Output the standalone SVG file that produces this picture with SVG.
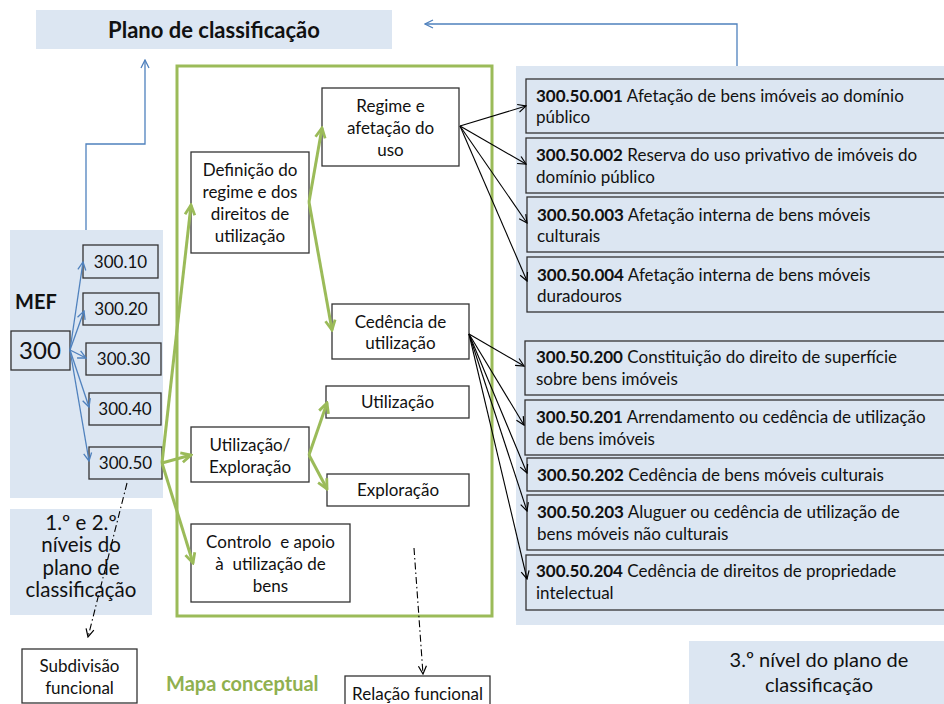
<svg xmlns="http://www.w3.org/2000/svg" width="944" height="704" viewBox="0 0 944 704">
<style>
.panel{fill:#dce6f2}
.box{fill:#fff;stroke:#333;stroke-width:1.3}
.bbox{fill:#dce6f2;stroke:#333;stroke-width:1.3}
text{font-family:Lato,"Liberation Sans",sans-serif;fill:#111}
.n{font-size:17px;text-anchor:middle}
.r{font-size:17px}
.c{text-anchor:middle}
.b{font-weight:bold}
.blue{stroke:#4f81bd;stroke-width:1.3;fill:none}
.green{stroke:#9bbb59;stroke-width:3;fill:none}
.blk{stroke:#000;stroke-width:1.1;fill:none}
.dd{stroke:#000;stroke-width:1.1;stroke-dasharray:7 3 1.5 3;fill:none}
</style>
<defs>
<marker id="ab" viewBox="0 0 10 10" refX="9" refY="5" markerWidth="10" markerHeight="10" markerUnits="userSpaceOnUse" orient="auto"><path d="M1,1 L9,5 L1,9" fill="none" stroke="#4f81bd" stroke-width="1.3"/></marker>
<marker id="ak" viewBox="0 0 10 10" refX="9" refY="5" markerWidth="10" markerHeight="10" markerUnits="userSpaceOnUse" orient="auto"><path d="M1,1 L9,5 L1,9" fill="none" stroke="#000" stroke-width="1.2"/></marker>
<marker id="ag" viewBox="0 0 12 12" refX="10.5" refY="6" markerWidth="13" markerHeight="13" markerUnits="userSpaceOnUse" orient="auto"><path d="M1.5,1.5 L10.5,6 L1.5,10.5" fill="none" stroke="#9bbb59" stroke-width="2.6"/></marker>
</defs>

<g id="panels">
<rect class="panel" x="516" y="66" width="430" height="559"/>
<rect class="panel" x="10" y="230" width="153" height="268"/>
<rect class="panel" x="10" y="509" width="142" height="106"/>
<rect class="panel" x="689" y="641" width="260" height="70"/>
<rect x="177" y="66" width="315" height="550" fill="none" stroke="#9bbb59" stroke-width="3"/>
</g>

<g id="plano">
<rect class="panel" x="36" y="10" width="356" height="39"/>
<text class="c b" x="214" y="37.5" font-size="22">Plano de classificação</text>
</g>

<g id="mef-label"><text class="b" x="15" y="309" font-size="20">MEF</text></g>
<g id="n300"><rect class="bbox" x="11" y="331" width="59" height="39"/><text class="c" x="40" y="359" font-size="24">300</text></g>
<g id="n30010"><rect class="bbox" x="83" y="245" width="75" height="33"/><text class="n" x="120.5" y="268">300.10</text></g>
<g id="n30020"><rect class="bbox" x="83" y="293" width="76" height="32"/><text class="n" x="121" y="315">300.20</text></g>
<g id="n30030"><rect class="bbox" x="86" y="343" width="75" height="32"/><text class="n" x="123.5" y="365">300.30</text></g>
<g id="n30040"><rect class="bbox" x="89" y="393" width="72" height="32"/><text class="n" x="125" y="415">300.40</text></g>
<g id="n30050"><rect class="bbox" x="89" y="447" width="73" height="32"/><text class="n" x="125.5" y="469">300.50</text></g>

<g id="niveis12">
<text class="c" font-size="20.5"><tspan x="81" y="530">1.º e 2.º</tspan><tspan x="81" y="552">níveis do</tspan><tspan x="81" y="575">plano de</tspan><tspan x="81" y="597">classificação</tspan></text>
</g>
<g id="nivel3">
<text class="c" font-size="20"><tspan x="819" y="667">3.º nível do plano de</tspan><tspan x="819" y="692">classificação</tspan></text>
</g>

<g id="regime"><rect class="box" x="322" y="88" width="137" height="78"/><text class="n"><tspan x="390.5" y="112">Regime e</tspan><tspan x="390.5" y="134">afetação do</tspan><tspan x="390.5" y="156">uso</tspan></text></g>
<g id="definicao"><rect class="box" x="191" y="152" width="118" height="101"/><text class="n"><tspan x="250" y="176">Definição do</tspan><tspan x="250" y="198">regime e dos</tspan><tspan x="250" y="220">direitos de</tspan><tspan x="250" y="242">utilização</tspan></text></g>
<g id="cedencia"><rect class="box" x="332" y="304" width="137" height="55"/><text class="n"><tspan x="400.5" y="328">Cedência de</tspan><tspan x="400.5" y="349">utilização</tspan></text></g>
<g id="utilizacao"><rect class="box" x="326" y="386" width="143" height="32"/><text class="n" x="397.5" y="408">Utilização</text></g>
<g id="exploracao"><rect class="box" x="327" y="474" width="142" height="32"/><text class="n" x="398" y="496">Exploração</text></g>
<g id="utilexp"><rect class="box" x="191" y="427" width="118" height="55"/><text class="n"><tspan x="250" y="451">Utilização/</tspan><tspan x="250" y="473">Exploração</tspan></text></g>
<g id="controlo"><rect class="box" x="191" y="524" width="159" height="78"/><text class="n" xml:space="preserve"><tspan x="270.5" y="548">Controlo  e apoio</tspan><tspan x="270.5" y="570">à  utilização de</tspan><tspan x="270.5" y="592">bens</tspan></text></g>

<g id="r001"><rect class="bbox" x="526" y="79" width="430" height="54"/><text class="r"><tspan x="536" y="102"><tspan class="b">300.50.001</tspan> Afetação de bens imóveis ao domínio</tspan><tspan x="536" y="123">público</tspan></text></g>
<g id="r002"><rect class="bbox" x="526" y="138" width="430" height="55"/><text class="r"><tspan x="536" y="161"><tspan class="b">300.50.002</tspan> Reserva do uso privativo de imóveis do</tspan><tspan x="536" y="183">domínio público</tspan></text></g>
<g id="r003"><rect class="bbox" x="527" y="197" width="430" height="55"/><text class="r"><tspan x="537" y="221"><tspan class="b">300.50.003</tspan> Afetação interna de bens móveis</tspan><tspan x="537" y="242">culturais</tspan></text></g>
<g id="r004"><rect class="bbox" x="527" y="257" width="430" height="55"/><text class="r"><tspan x="537" y="281"><tspan class="b">300.50.004</tspan> Afetação interna de bens móveis</tspan><tspan x="537" y="302">duradouros</tspan></text></g>
<g id="r200"><rect class="bbox" x="525" y="341" width="430" height="54"/><text class="r"><tspan x="536" y="363"><tspan class="b">300.50.200</tspan> Constituição do direito de superfície</tspan><tspan x="536" y="385">sobre bens imóveis</tspan></text></g>
<g id="r201"><rect class="bbox" x="525" y="400" width="430" height="55"/><text class="r"><tspan x="536" y="423"><tspan class="b">300.50.201</tspan> Arrendamento ou cedência de utilização</tspan><tspan x="536" y="445">de bens imóveis</tspan></text></g>
<g id="r202"><rect class="bbox" x="527" y="458" width="430" height="33"/><text class="r"><tspan x="537" y="481"><tspan class="b">300.50.202</tspan> Cedência de bens móveis culturais</tspan></text></g>
<g id="r203"><rect class="bbox" x="527" y="495" width="430" height="55"/><text class="r"><tspan x="537" y="518"><tspan class="b">300.50.203</tspan> Aluguer ou cedência de utilização de</tspan><tspan x="537" y="540">bens móveis não culturais</tspan></text></g>
<g id="r204"><rect class="bbox" x="526" y="555" width="430" height="55"/><text class="r"><tspan x="536" y="577"><tspan class="b">300.50.204</tspan> Cedência de direitos de propriedade</tspan><tspan x="536" y="599">intelectual</tspan></text></g>

<g id="subdivisao"><rect class="box" x="22" y="649" width="115" height="54"/><text class="c" font-size="17"><tspan x="79.5" y="672">Subdivisão</tspan><tspan x="79.5" y="694">funcional</tspan></text></g>
<g id="mapa"><text class="b" x="166" y="691" font-size="20" style="fill:#8fb04f">Mapa conceptual</text></g>
<g id="relacao"><rect class="box" x="345" y="676" width="145" height="40"/><text class="c" font-size="17" x="417.5" y="700">Relação funcional</text></g>

<g id="connectors">
<polyline class="blue" points="86,230 86,144 145,144 145,60" marker-end="url(#ab)"/>
<polyline class="blue" points="737,66 737,24 425,24" marker-end="url(#ab)"/>
<line class="blue" x1="70" y1="350" x2="83" y2="262" marker-end="url(#ab)"/>
<line class="blue" x1="70" y1="350" x2="84" y2="311" marker-end="url(#ab)"/>
<line class="blue" x1="70" y1="350" x2="86" y2="358" marker-end="url(#ab)"/>
<line class="blue" x1="70" y1="350" x2="89" y2="407" marker-end="url(#ab)"/>
<line class="blue" x1="70" y1="350" x2="89" y2="461" marker-end="url(#ab)"/>

<line class="green" x1="162" y1="463" x2="191" y2="205" marker-end="url(#ag)"/>
<line class="green" x1="162" y1="463" x2="191" y2="455" marker-end="url(#ag)"/>
<line class="green" x1="162" y1="463" x2="193" y2="563" marker-end="url(#ag)"/>
<line class="green" x1="309" y1="202" x2="322" y2="128" marker-end="url(#ag)"/>
<line class="green" x1="309" y1="202" x2="332" y2="330" marker-end="url(#ag)"/>
<line class="green" x1="309" y1="455" x2="327" y2="403" marker-end="url(#ag)"/>
<line class="green" x1="309" y1="455" x2="327" y2="489" marker-end="url(#ag)"/>

<line class="blk" x1="460" y1="126" x2="526" y2="106" marker-end="url(#ak)"/>
<line class="blk" x1="460" y1="126" x2="526" y2="164" marker-end="url(#ak)"/>
<line class="blk" x1="460" y1="126" x2="527" y2="223" marker-end="url(#ak)"/>
<line class="blk" x1="460" y1="126" x2="527" y2="281" marker-end="url(#ak)"/>
<line class="blk" x1="469" y1="334" x2="524" y2="366" marker-end="url(#ak)"/>
<line class="blk" x1="469" y1="334" x2="524" y2="425" marker-end="url(#ak)"/>
<line class="blk" x1="469" y1="334" x2="527" y2="473" marker-end="url(#ak)"/>
<line class="blk" x1="469" y1="334" x2="527" y2="511" marker-end="url(#ak)"/>
<line class="blk" x1="469" y1="334" x2="527" y2="579" marker-end="url(#ak)"/>

<line class="dd" x1="127" y1="483" x2="88" y2="637" marker-end="url(#ak)"/>
<line class="dd" x1="414" y1="548" x2="423" y2="674" marker-end="url(#ak)"/>
</g>
</svg>
